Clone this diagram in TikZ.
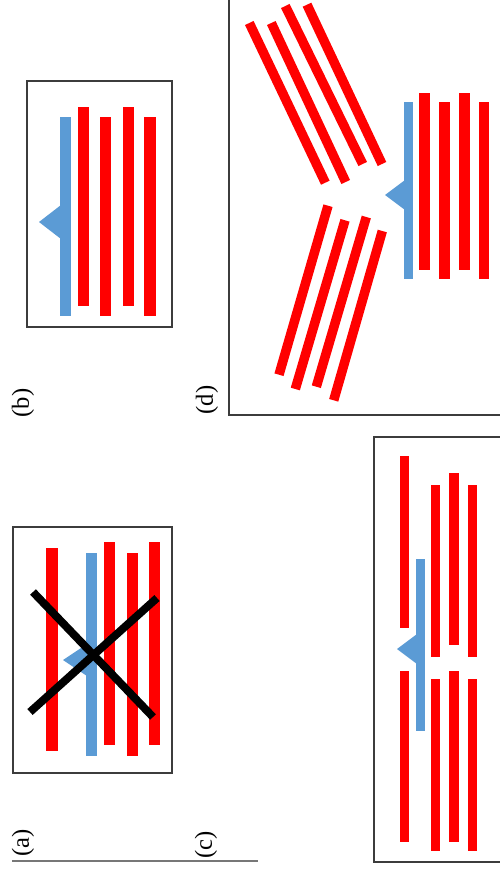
\documentclass[tikz,border=0pt]{standalone}
\usepackage{fontspec}
\setmainfont{Liberation Serif}
\definecolor{barblue}{RGB}{91,155,213}
\definecolor{frame}{RGB}{60,60,60}
\begin{document}
\begin{tikzpicture}[x=0.02cm, y=-0.02cm,
    redbar/.style={draw=red, line width=#1},
    redbar/.default=6.5pt,
    bluebar/.style={draw=barblue, line width=#1},
    bluebar/.default=6.5pt,
    bluetip/.style={fill=barblue},
    panel/.style={draw=frame, line width=0.6pt},
    cross/.style={draw=black, line width=4.5pt},
    lab/.style={rotate=90, font=\fontsize{14}{16}\selectfont}]
    \clip (0,0) rectangle (500,872);

    % Pannello (a): blocco annullato
    \draw[panel] (13,527) rectangle (172,773);
    \draw[redbar] (52,548) -- (52,751);
    \fill[bluetip] (63,660) -- (87,644) -- (87,676) -- cycle;
    \draw[bluebar] (91.5,553) -- (91.5,756);
    \draw[redbar] (109.5,542) -- (109.5,745);
    \draw[redbar] (132.5,553) -- (132.5,756);
    \draw[redbar] (154.5,542) -- (154.5,745);
    % Croce
    \draw[cross] (33,592) -- (153,717);
    \draw[cross] (30,712) -- (157,598);
    \node[lab] (lab-a) at (23,843) {(a)};

    % Pannello (b)
    \draw[panel] (27,81) rectangle (172,327);
    \fill[bluetip] (39,222) -- (61,205) -- (61,239) -- cycle;
    \draw[bluebar] (65.5,117) -- (65.5,316);
    \draw[redbar] (83.5,107) -- (83.5,306);
    \draw[redbar] (105.5,117) -- (105.5,316);
    \draw[redbar] (128.5,107) -- (128.5,306);
    \draw[redbar] (150,117) -- (150,316);
    \node[lab] (lab-b) at (23,403) {(b)};

    % Linea sotto (a) e (c)
    \draw[frame!70, line width=0.6pt] (12,861) -- (258,861);

    % Pannello (c): due blocchi sovrapposti
    \draw[panel] (374,437) rectangle (510,862);
    \draw[redbar=5.4pt] (404.5,456) -- (404.5,628);
    \draw[redbar=5.4pt] (404.5,671) -- (404.5,842);
    \fill[bluetip] (397,649) -- (417,634) -- (417,664) -- cycle;
    \draw[bluebar=5.4pt] (420.5,559) -- (420.5,731);
    \draw[redbar=5.4pt] (435.5,485) -- (435.5,657);
    \draw[redbar=5.4pt] (435.5,679) -- (435.5,851);
    \draw[redbar=5.4pt] (454,473) -- (454,645);
    \draw[redbar=5.4pt] (454,671) -- (454,842);
    \draw[redbar=5.4pt] (472.5,485) -- (472.5,657);
    \draw[redbar=5.4pt] (472.5,679) -- (472.5,851);
    \node[lab] (lab-c) at (206,845) {(c)};

    % Pannello (d): blocchi inclinati
    \draw[panel] (229,-10) rectangle (510,415);
    \fill[bluetip] (385,195) -- (405,180) -- (405,210) -- cycle;
    \draw[bluebar=5.4pt] (408.5,102) -- (408.5,279);
    \draw[redbar=5.7pt] (424.5,93) -- (424.5,270);
    \draw[redbar=5.7pt] (444.5,102) -- (444.5,279);
    \draw[redbar=5.7pt] (464.5,93) -- (464.5,270);
    \draw[redbar=5.7pt] (484,102) -- (484,279);
    % Gruppo superiore
    \draw[redbar=5.4pt] (249.3,23) -- (325.3,182.7);
    \draw[redbar=5.4pt] (271.3,23) -- (345.7,182);
    \draw[redbar=5.4pt] (285.3,6) -- (362.7,164);
    \draw[redbar=5.4pt] (307,4.7) -- (382,164);
    % Gruppo inferiore
    \draw[redbar=5.4pt] (328,205.7) -- (279,374.7);
    \draw[redbar=5.4pt] (345,220.3) -- (295.3,389);
    \draw[redbar=5.4pt] (366.3,217) -- (316.3,386.7);
    \draw[redbar=5.4pt] (382.3,231) -- (333.7,400.3);
    \node[lab] (lab-d) at (207,400) {(d)};
\end{tikzpicture}
\end{document}
